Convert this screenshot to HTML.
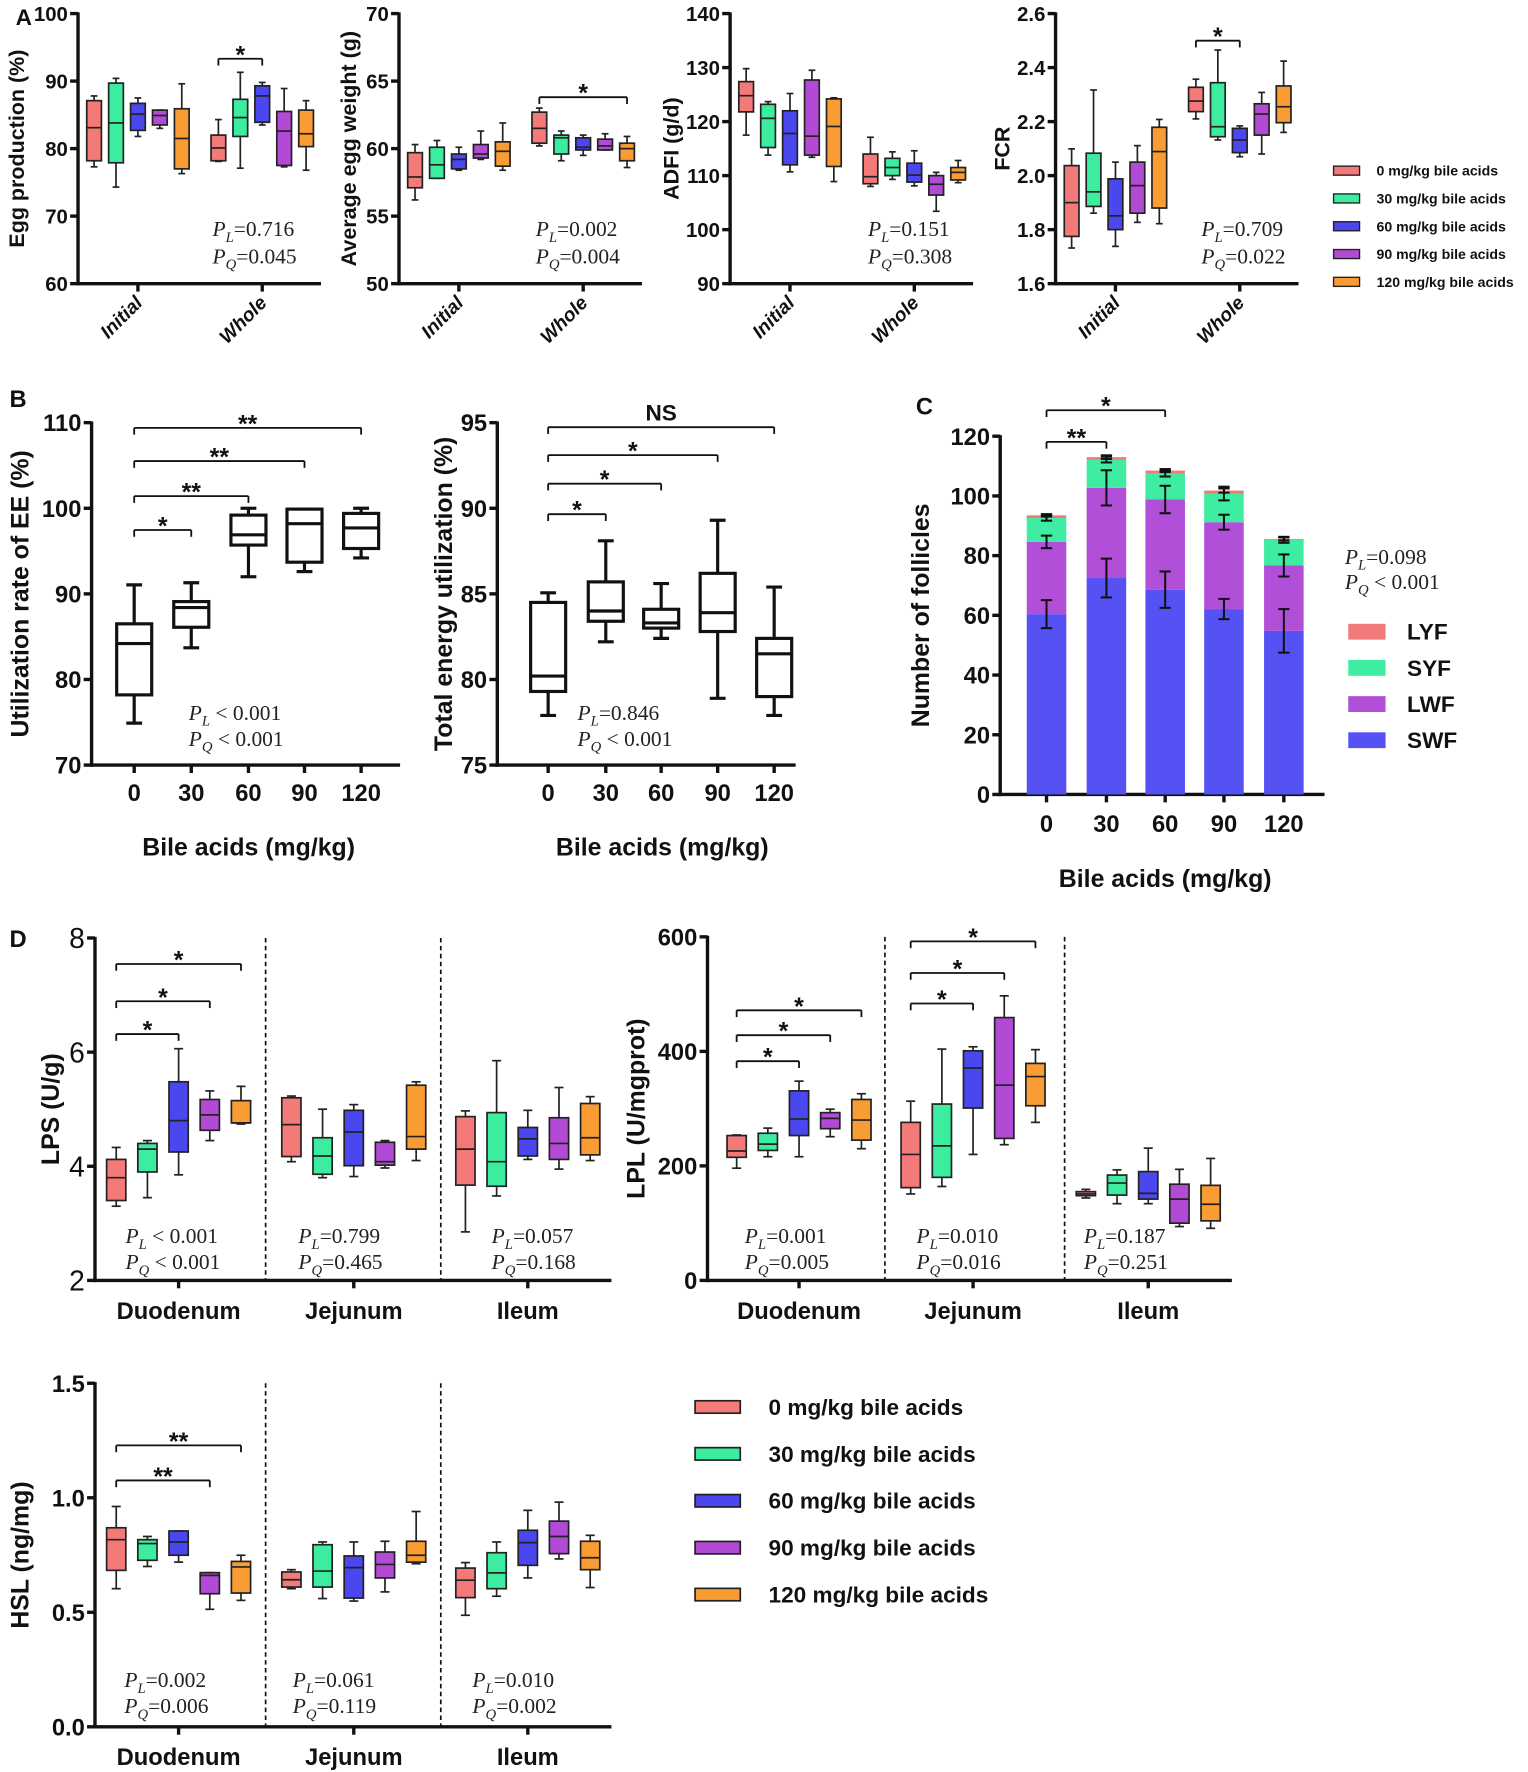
<!DOCTYPE html>
<html><head><meta charset="utf-8"><title>Bile acids figure</title>
<style>
html,body{margin:0;padding:0;background:#fff;}
svg{display:block;font-family:"Liberation Sans",Arial,sans-serif;}
</style></head>
<body>
<svg id="fig" xmlns="http://www.w3.org/2000/svg" width="1528" height="1772" viewBox="0 0 1352 1568">
<rect x="0" y="0" width="1352" height="1568" fill="#fff"/>
</svg>
<script>
// ---------- data ----------
const periods = ['Initial','Whole'];
const doses = ['0','30','60','90','120'];
const segments = ['Duodenum','Jejunum','Ileum'];
const legendLabels = ['0 mg/kg bile acids','30 mg/kg bile acids','60 mg/kg bile acids','90 mg/kg bile acids','120 mg/kg bile acids'];
// box stats: [min, q1, median, q3, max]
const eggInitial = [[77.3,78.2,83.1,87.1,87.8],[74.3,77.9,83.8,89.7,90.4],[81.8,82.7,85.1,86.7,87.5],[83.0,83.5,84.9,85.7,85.7],[76.3,77.0,81.5,85.9,89.6]];
const eggWhole = [[78.1,78.2,80.1,82.0,84.3],[77.1,81.8,84.6,87.3,91.3],[83.5,83.9,87.8,89.3,89.8],[77.3,77.5,82.6,85.5,88.9],[76.8,80.3,82.2,85.7,87.1]];
const weightInitial = [[56.2,57.1,57.9,59.7,60.3],[57.8,57.8,58.8,60.1,60.6],[58.4,58.5,59.2,59.6,60.1],[59.2,59.3,59.6,60.3,61.3],[58.4,58.7,59.8,60.5,61.9]];
const weightWhole = [[60.2,60.4,61.5,62.7,63.0],[59.1,59.6,60.8,61.0,61.3],[59.5,59.9,60.1,60.8,61.0],[59.9,59.9,60.2,60.7,61.1],[58.6,59.1,60.0,60.4,60.9]];
const adfiInitial = [[117.5,121.8,124.8,127.4,129.8],[113.8,115.2,120.6,123.2,123.7],[110.7,112.0,117.8,122.0,125.2],[113.4,113.8,117.3,127.7,129.5],[108.9,111.7,119.1,124.2,124.4]];
const adfiWhole = [[108.0,108.5,109.8,114.0,117.1],[109.3,110.0,111.5,113.2,114.4],[108.1,108.8,110.1,112.3,114.6],[103.4,106.4,108.4,110.0,110.6],[108.7,109.2,110.6,111.5,112.8]];
const fcrInitial = [[1.732,1.775,1.90,2.037,2.099],[1.861,1.886,1.94,2.083,2.317],[1.738,1.80,1.851,1.988,2.05],[1.827,1.861,1.963,2.05,2.111],[1.822,1.88,2.089,2.179,2.208]];
const fcrWhole = [[2.21,2.237,2.276,2.327,2.357],[2.132,2.144,2.181,2.344,2.465],[2.07,2.085,2.132,2.175,2.184],[2.08,2.15,2.228,2.266,2.308],[2.16,2.196,2.255,2.332,2.424]];
const eeBoxes = [[74.9,78.2,84.2,86.5,91.05],[83.7,86.1,88.4,89.1,91.3],[92.0,95.7,96.9,99.2,100],[92.6,93.7,98.2,99.9,99.9],[94.2,95.3,97.7,99.4,100]];
const teBoxes = [[77.9,79.3,80.2,84.5,85.06],[82.2,83.4,84.0,85.7,88.1],[82.4,83.0,83.3,84.1,85.6],[78.9,82.8,83.9,86.2,89.3],[77.9,79.0,81.5,82.4,85.4]];
const swf = [60.4,72.5,68.6,62.1,54.8];
const lwf = [24.2,30.2,30.2,29.1,21.9];
const syf = [8.0,9.5,8.7,9.6,8.6];
const lyf = [0.9,0.8,1.0,1.0,0.3];
const swfErr = [4.7,6.5,6.1,3.4,7.3];
const lwfErr = [2.1,5.9,4.6,2.5,3.7];
const syfErr = [0.9,1.0,1.0,2.3,1.0];
const lyfErr = [0.4,0.6,0.5,0.7,0.5];
const lpsDuo = [[3.3,3.4,3.8,4.12,4.33],[3.45,3.9,4.3,4.4,4.45],[3.85,4.25,4.8,5.48,6.06],[4.45,4.63,4.9,5.17,5.32],[4.74,4.76,4.76,5.15,5.4]];
const lpsJej = [[4.08,4.17,4.73,5.2,5.23],[3.8,3.86,4.18,4.5,5.0],[3.82,4.01,4.6,4.98,5.08],[3.97,4.02,4.08,4.42,4.45],[4.1,4.3,4.52,5.42,5.48]];
const lpsIle = [[2.85,3.67,4.3,4.87,4.97],[3.48,3.65,4.08,4.94,5.85],[4.12,4.18,4.48,4.68,4.98],[3.95,4.12,4.4,4.85,5.38],[4.1,4.2,4.5,5.1,5.22]];
const lplDuo = [[196,215,226,253,254],[216,227,238,257,266],[216,253,282,331,348],[251,265,283,293,299],[230,245,280,316,326]];
const lplJej = [[151,162,220,276,313],[164,180,235,308,404],[220,301,371,401,408],[237,248,341,459,497],[276,305,356,379,403]];
const lplIle = [[144,148,151,155,159],[134,149,170,184,193],[134,142,152,190,231],[94,100,142,168,194],[91,104,133,166,213]];
const hslDuo = [[0.603,0.683,0.817,0.869,0.962],[0.70,0.727,0.80,0.817,0.831],[0.719,0.749,0.807,0.855,0.855],[0.513,0.581,0.661,0.673,0.673],[0.552,0.584,0.698,0.722,0.749]];
const hslJej = [[0.603,0.61,0.642,0.676,0.686],[0.56,0.61,0.68,0.795,0.807],[0.549,0.562,0.695,0.746,0.807],[0.589,0.65,0.709,0.763,0.81],[0.712,0.719,0.749,0.81,0.94]];
const hslIle = [[0.487,0.564,0.64,0.693,0.717],[0.57,0.603,0.672,0.76,0.807],[0.65,0.705,0.804,0.858,0.945],[0.733,0.756,0.831,0.898,0.981],[0.608,0.686,0.738,0.81,0.836]];

// ---------- helpers ----------
const NS='http://www.w3.org/2000/svg';
const svg=document.getElementById('fig');
const COLORS=['#f47a7a','#3ded9f','#4a47ee','#b24ad6','#f89c33'];
function mk(tag,attrs,parent){const e=document.createElementNS(NS,tag);for(const k in attrs)e.setAttribute(k,attrs[k]);(parent||svg).appendChild(e);return e;}
function grp(name,parent){
  const g=mk('g',{},parent);
  
  
  return g;}
function line(p,x1,y1,x2,y2,w,name,dash){
  const e=mk('line',{x1:x1,y1:y1,x2:x2,y2:y2,stroke:'#111','stroke-width':w},p);
  if(dash)e.setAttribute('stroke-dasharray',dash);
  
  
  return e;}
function rect(p,x,y,w,h,fill,stroke,sw,name){
  const e=mk('rect',{x:x,y:y,width:w,height:h,fill:fill,stroke:stroke,'stroke-width':sw},p);
  
  
  return e;}
function text(p,x,y,s,o,name){
  o=o||{};
  const e=mk('text',{x:x,y:y,'font-size':o.size||16,'font-weight':o.weight||'bold','text-anchor':o.anchor||'middle',fill:'#111'},p);
  if(o.italic)e.setAttribute('font-style','italic');
  if(o.family)e.setAttribute('font-family',o.family);
  if(o.transform)e.setAttribute('transform',o.transform);
  e.textContent=s;
  
  
  return e;}
function pval(p,x,y,sub,rest,name){
  const e=mk('text',{x:x,y:y,'font-size':19,'font-family':'"Liberation Serif",serif',fill:'#222'},p);
  e.innerHTML='<tspan font-style="italic">P</tspan><tspan font-style="italic" font-size="13" dy="5">'+sub+'</tspan><tspan dy="-5">'+rest+'</tspan>';
  
  
  return e;}
function bracket(p,xa,xb,y,label,name){
  const g=grp(name,p);
  line(g,xa,y,xb,y,1.6,'bracket-line');
  line(g,xa,y,xa,y+6,1.6,'bracket-end');
  line(g,xb,y,xb,y+6,1.6,'bracket-end');
  text(g,(xa+xb)/2,y-4+(label==='NS'?-2:8),label,{size:label==='NS'?20:22,weight:'bold'},'significance-label');
}
function axes(p,c){
  const y=v=>c.yBot-(v-c.min)/(c.max-c.min)*(c.yBot-c.yTop);
  line(p,c.x0,c.yTop-1,c.x0,c.yBot+1.5,3,'y-axis');
  line(p,c.x0-1.5,c.yBot,c.x1,c.yBot,3,'x-axis');
  c.ticks.forEach(t=>{
    line(p,c.x0-7,y(t),c.x0,y(t),3,'y-tick');
    text(p,c.x0-9,y(t)+c.tickSize*0.36,c.fmt?c.fmt(t):String(t),{anchor:'end',size:c.tickSize,weight:c.tickWeight||'bold'},'y-tick-label');
  });
  c.xticks.forEach(x=>line(p,x,c.yBot,x,c.yBot+7,3,'x-tick'));
  text(p,c.titleX,(c.yTop+c.yBot)/2,c.title,{size:c.titleSize||18,transform:'rotate(-90 '+c.titleX+' '+(c.yTop+c.yBot)/2+')'},'y-axis-title').setAttribute('dominant-baseline','central');
  return y;}
function box(p,cx,w,s,y,fill,stroke,sw,capW,name){
  const g=grp(name,p);
  line(g,cx,y(s[4]),cx,y(s[3]),sw,'whisker-upper').setAttribute('stroke',stroke);
  line(g,cx,y(s[1]),cx,y(s[0]),sw,'whisker-lower').setAttribute('stroke',stroke);
  line(g,cx-capW/2,y(s[4]),cx+capW/2,y(s[4]),sw,'cap-max').setAttribute('stroke',stroke);
  line(g,cx-capW/2,y(s[0]),cx+capW/2,y(s[0]),sw,'cap-min').setAttribute('stroke',stroke);
  rect(g,cx-w/2,y(s[3]),w,Math.max(1,y(s[1])-y(s[3])),fill,stroke,sw,'box-iqr');
  line(g,cx-w/2,y(s[2]),cx+w/2,y(s[2]),sw,'median').setAttribute('stroke',stroke);
}

// ---------- Panel A ----------
text(svg,21,22,'A',{size:20},'panel-label-a');
const panelA=[
 {name:'egg-production-chart',x0:69,min:60,max:100,ticks:[60,70,80,90,100],title:'Egg production (%)',titleX:15,data:[eggInitial,eggWhole],p:['=0.716','=0.045'],px:188,br:{g:1,a:0,b:2,y:52}},
 {name:'egg-weight-chart',x0:353,min:50,max:70,ticks:[50,55,60,65,70],title:'Average egg weight (g)',titleX:309,data:[weightInitial,weightWhole],p:['=0.002','=0.004'],px:474,br:{g:1,a:0,b:4,y:86}},
 {name:'adfi-chart',x0:646,min:90,max:140,ticks:[90,100,110,120,130,140],title:'ADFI (g/d)',titleX:594,data:[adfiInitial,adfiWhole],p:['=0.151','=0.308'],px:768,br:null},
 {name:'fcr-chart',x0:934,min:1.6,max:2.6,ticks:[1.6,1.8,2.0,2.2,2.4,2.6],fmt:v=>v.toFixed(1),title:'FCR',titleX:887,data:[fcrInitial,fcrWhole],p:['=0.709','=0.022'],px:1063,br:{g:1,a:0,b:2,y:36}}
];
panelA.forEach(c=>{
  const g=grp(c.name,svg);
  const gx=[c.x0+53,c.x0+163];
  const y=axes(g,{x0:c.x0,x1:c.x0+215,yTop:12,yBot:251,min:c.min,max:c.max,ticks:c.ticks,fmt:c.fmt,tickSize:18,xticks:gx,title:c.title,titleX:c.titleX,titleSize:19});
  c.data.forEach((grpData,gi)=>{
    grpData.forEach((s,i)=>box(g,gx[gi]+(i-2)*19.4,13,s,y,COLORS[i],'#222',1.5,6,'box-'+periods[gi].toLowerCase()+'-'+doses[i]));
    text(g,gx[gi]+5,269,periods[gi],{size:17,italic:true,anchor:'end',transform:'rotate(-45 '+(gx[gi]+5)+' 269)'},'x-tick-label');
  });
  pval(g,c.px,209,'L',c.p[0],'p-linear');
  pval(g,c.px,233,'Q',c.p[1],'p-quadratic');
  if(c.br){const b=c.br;bracket(g,gx[b.g]+(b.a-2)*19.4,gx[b.g]+(b.b-2)*19.4,b.y,'*','significance-bracket');}
});
// legend A
const legA=grp('legend-a',svg);
legendLabels.forEach((l,i)=>{
  const yy=151+i*24.6;
  rect(legA,1180,yy-4,23,8,COLORS[i],'#222',1.2,'legend-swatch');
  text(legA,1218,yy+4.5,l,{size:12.5,anchor:'start'},'legend-entry');
});

// ---------- Panel B ----------
text(svg,16,360,'B',{size:21},'panel-label-b');
const bx1=[118.7,169.2,219.8,269.4,319.5];
const bx2=[485,536,585,635,685];
const gB1=grp('ee-utilization-chart',svg);
const yB1=axes(gB1,{x0:81,x1:354,yTop:374,yBot:677,min:70,max:110,ticks:[70,80,90,100,110],tickSize:21,xticks:bx1,title:'Utilization rate of EE (%)',titleX:18,titleSize:22});
eeBoxes.forEach((s,i)=>box(gB1,bx1[i],31,s,yB1,'#fff','#111',2.8,14,'box-dose-'+doses[i]));
doses.forEach((d,i)=>text(gB1,bx1[i],709,d,{size:21},'x-tick-label'));
text(gB1,220,757,'Bile acids (mg/kg)',{size:22},'x-axis-title');
pval(gB1,167,637,'L',' < 0.001','p-linear');
pval(gB1,167,660,'Q',' < 0.001','p-quadratic');
[[1,469,'*'],[2,439,'**'],[3,408,'**'],[4,378.6,'**']].forEach(b=>bracket(gB1,bx1[0],bx1[b[0]],b[1],b[2],'significance-bracket'));

const gB2=grp('total-energy-chart',svg);
const yB2=axes(gB2,{x0:440,x1:704,yTop:374,yBot:677,min:75,max:95,ticks:[75,80,85,90,95],tickSize:21,xticks:bx2,title:'Total energy utilization (%)',titleX:393,titleSize:22});
teBoxes.forEach((s,i)=>box(gB2,bx2[i],31,s,yB2,'#fff','#111',2.8,14,'box-dose-'+doses[i]));
doses.forEach((d,i)=>text(gB2,bx2[i],709,d,{size:21},'x-tick-label'));
text(gB2,586,757,'Bile acids (mg/kg)',{size:22},'x-axis-title');
pval(gB2,511,637,'L','=0.846','p-linear');
pval(gB2,511,660,'Q',' < 0.001','p-quadratic');
[[1,455,'*'],[2,428,'*'],[3,402.7,'*'],[4,378,'NS']].forEach(b=>bracket(gB2,bx2[0],bx2[b[0]],b[1],b[2],'significance-bracket'));

// ---------- Panel C ----------
text(svg,818,367,'C',{size:21},'panel-label-c');
const cx=[926,979,1031,1083,1136];
const gC=grp('follicles-chart',svg);
const yC=axes(gC,{x0:885,x1:1172,yTop:386,yBot:703,min:0,max:120,ticks:[0,20,40,60,80,100,120],tickSize:21,xticks:cx,title:'Number of follicles',titleX:815,titleSize:22});
const layers=[[swf,swfErr,'#5551f2','swf'],[lwf,lwfErr,'#b24fd8','lwf'],[syf,syfErr,'#3eeda2','syf'],[lyf,lyfErr,'#f07a7a','lyf']];
doses.forEach((d,i)=>{
  let base=0;
  layers.forEach(L=>{
    const top=base+L[0][i];
    rect(gC,cx[i]-17.5,yC(top),35,yC(base)-yC(top),L[2],'none',0,'bar-'+L[3]+'-'+d);
    base=top;
  });
  base=0;
  layers.forEach(L=>{
    const top=base+L[0][i],e=L[1][i];
    line(gC,cx[i],yC(top+e),cx[i],yC(top-e),1.8,'error-bar');
    line(gC,cx[i]-5,yC(top+e),cx[i]+5,yC(top+e),1.8,'error-cap');
    line(gC,cx[i]-5,yC(top-e),cx[i]+5,yC(top-e),1.8,'error-cap');
    base=top;
  });
  text(gC,cx[i],736,d,{size:21},'x-tick-label');
});
text(gC,1031,785,'Bile acids (mg/kg)',{size:22},'x-axis-title');
pval(gC,1190,499,'L','=0.098','p-linear');
pval(gC,1190,521,'Q',' < 0.001','p-quadratic');
bracket(gC,cx[0],cx[1],391,'**','significance-bracket');
bracket(gC,cx[0],cx[2],363,'*','significance-bracket');
const legC=grp('legend-c',svg);
[['LYF','#f07a7a'],['SYF','#3eeda2'],['LWF','#b24fd8'],['SWF','#5551f2']].forEach((l,i)=>{
  const yy=559+i*32;
  rect(legC,1193,yy-7,33,14,l[1],'none',0,'legend-swatch');
  text(legC,1245,yy+7,l[0],{size:20,anchor:'start'},'legend-entry');
});

// ---------- Panel D ----------
text(svg,16,838,'D',{size:21},'panel-label-d');
function dChart(name,c){
  const g=grp(name,svg);
  const y=axes(g,{x0:c.x0,x1:c.x1,yTop:c.yTop,yBot:c.yBot,min:c.min,max:c.max,ticks:c.ticks,fmt:c.fmt,tickSize:c.tickSize,tickWeight:c.tickWeight,xticks:c.gx,title:c.title,titleX:c.titleX,titleSize:22});
  c.dash.forEach(x=>line(g,x,c.yTop,x,c.yBot,1.5,'region-divider','4,3'));
  c.data.forEach((gd,gi)=>{
    gd.forEach((s,i)=>box(g,c.gx[gi]+(i-2)*27.6,17,s,y,COLORS[i],'#222',1.5,8,'box-'+segments[gi].toLowerCase()+'-'+doses[i]));
    text(g,c.gx[gi],c.yBot+34,segments[gi],{size:21},'x-tick-label');
    pval(g,c.px[gi],c.py,'L',c.p[gi][0],'p-linear');
    pval(g,c.px[gi],c.py+23,'Q',c.p[gi][1],'p-quadratic');
  });
  c.br.forEach(b=>bracket(g,c.gx[b[0]]-2*27.6,c.gx[b[0]]+(b[1]-2)*27.6,b[2],b[3],'significance-bracket'));
}
dChart('lps-chart',{x0:84,x1:541,yTop:830,yBot:1133,min:2,max:8,ticks:[2,4,6,8],tickSize:25,tickWeight:'normal',gx:[158,313,467],dash:[235,390],title:'LPS (U/g)',titleX:45,data:[lpsDuo,lpsJej,lpsIle],
  px:[111,264,435],py:1100,p:[[' < 0.001',' < 0.001'],['=0.799','=0.465'],['=0.057','=0.168']],br:[[0,2,915,'*'],[0,3,886,'*'],[0,4,853,'*']]});
dChart('lpl-chart',{x0:626,x1:1090,yTop:829,yBot:1133,min:0,max:600,ticks:[0,200,400,600],tickSize:21,gx:[707,861,1016],dash:[783,942],title:'LPL (U/mgprot)',titleX:563,data:[lplDuo,lplJej,lplIle],
  px:[659,811,959],py:1100,p:[['=0.001','=0.005'],['=0.010','=0.016'],['=0.187','=0.251']],br:[[0,2,939,'*'],[0,3,916,'*'],[0,4,894,'*'],[1,2,888,'*'],[1,3,861,'*'],[1,4,833,'*']]});
dChart('hsl-chart',{x0:84,x1:541,yTop:1224,yBot:1528,min:0,max:1.5,ticks:[0,0.5,1.0,1.5],fmt:v=>v.toFixed(1),tickSize:21,gx:[158,313,467],dash:[235,390],title:'HSL (ng/mg)',titleX:18,data:[hslDuo,hslJej,hslIle],
  px:[110,259,418],py:1493,p:[['=0.002','=0.006'],['=0.061','=0.119'],['=0.010','=0.002']],br:[[0,3,1310,'**'],[0,4,1279,'**']]});
const legD=grp('legend-d',svg);
legendLabels.forEach((l,i)=>{
  const yy=1245+i*41.5;
  rect(legD,615,yy-5.5,40,11,COLORS[i],'#222',1.5,'legend-swatch');
  text(legD,680,yy+7,l,{size:20,anchor:'start'},'legend-entry');
});
</script>
</body></html>
